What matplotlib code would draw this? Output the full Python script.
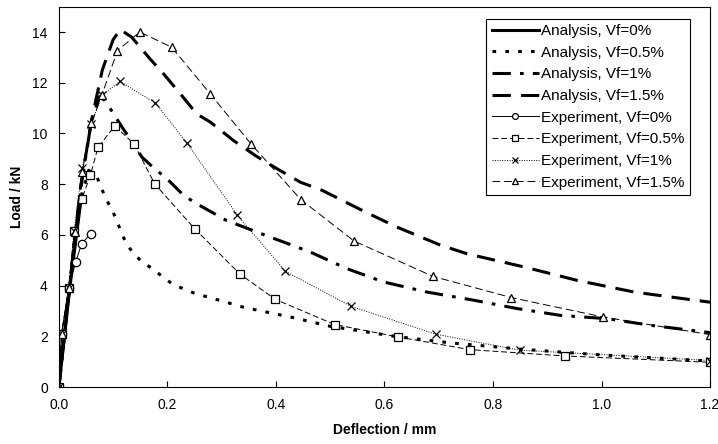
import matplotlib
matplotlib.use("Agg")
import matplotlib.pyplot as plt

plt.rcParams['font.family'] = ['Liberation Sans', 'DejaVu Sans']

# analysis curves
an0_x = [0.0, 0.02, 0.042]
an0_y = [0.0, 3.9, 7.6]

an05_x = [0.0, 0.02, 0.04, 0.055, 0.07, 0.085, 0.1, 0.125, 0.15, 0.17, 0.21, 0.25,
          0.3, 0.34, 0.43, 0.5, 0.62, 0.72, 0.85, 1.0, 1.2]
an05_y = [0.0, 4.0, 7.4, 8.55, 8.3, 7.5, 6.9, 5.6, 5.0, 4.7, 4.05, 3.7,
          3.4, 3.15, 2.75, 2.4, 2.0, 1.75, 1.5, 1.27, 1.03]

an1_x = [0.0, 0.02, 0.04, 0.06, 0.075, 0.085, 0.097, 0.118, 0.134, 0.153, 0.177, 0.199,
         0.23, 0.254, 0.309, 0.389, 0.463, 0.531, 0.598, 0.678, 0.764, 0.844, 0.924,
         1.01, 1.09, 1.2]
an1_y = [0.0, 4.0, 7.8, 10.5, 11.45, 11.3, 10.9, 10.2, 9.7, 9.07, 8.6, 8.22,
         7.56, 7.23, 6.57, 5.92, 5.33, 4.67, 4.15, 3.75, 3.43, 3.1, 2.83,
         2.7, 2.44, 2.15]

an15_x = [0.0, 0.02, 0.04, 0.06, 0.08, 0.1, 0.113, 0.134, 0.168, 0.193, 0.224, 0.254,
          0.279, 0.322, 0.362, 0.402, 0.445, 0.485, 0.528, 0.571, 0.623, 0.703,
          0.752, 0.857, 0.955, 1.06, 1.164, 1.2]
an15_y = [0.0, 4.0, 7.9, 10.5, 12.5, 13.7, 14.1, 13.8, 12.94, 12.35, 11.56, 10.77,
          10.45, 9.72, 9.13, 8.61, 8.08, 7.76, 7.3, 6.84, 6.31, 5.6,
          5.26, 4.74, 4.21, 3.75, 3.45, 3.35]

# experiment data
ex0_x = [0.0, 0.005, 0.018, 0.031, 0.042, 0.059]
ex0_y = [0.0, 2.1, 3.9, 4.93, 5.66, 6.05]

ex05_x = [0.0, 0.005, 0.018, 0.028, 0.042, 0.058, 0.072, 0.103, 0.138, 0.177,
          0.25, 0.334, 0.399, 0.508, 0.625, 0.757, 0.932, 1.2]
ex05_y = [0.0, 2.1, 3.9, 6.15, 7.4, 8.35, 9.45, 10.3, 9.6, 8.0,
          6.25, 4.45, 3.46, 2.47, 1.98, 1.48, 1.23, 0.98]

ex1_x = [0.0, 0.005, 0.018, 0.028, 0.043, 0.06, 0.079, 0.1125, 0.178, 0.236,
         0.329, 0.417, 0.538, 0.694, 0.849, 1.2]
ex1_y = [0.0, 2.1, 3.9, 6.15, 8.63, 10.38, 11.5, 12.05, 11.2, 9.62,
         6.78, 4.57, 3.19, 2.09, 1.46, 1.05]

ex15_x = [0.0, 0.005, 0.018, 0.03, 0.043, 0.06, 0.079, 0.108, 0.149, 0.208, 0.279,
          0.354, 0.446, 0.544, 0.689, 0.834, 1.002, 1.2]
ex15_y = [0.0, 2.1, 3.9, 6.1, 8.5, 10.4, 11.5, 13.27, 14.0, 13.4, 11.56,
          9.59, 7.39, 5.76, 4.37, 3.53, 2.77, 2.07]

fig = plt.figure(figsize=(7.18, 4.44), dpi=100)
ax = fig.add_axes([0.082, 0.128, 0.907, 0.857])

lw = 2.2
ax.plot(an0_x, an0_y, color='black', lw=lw, label='Analysis, Vf=0%')
ax.plot(an05_x, an05_y, color='black', lw=lw, dashes=(1.2, 3), label='Analysis, Vf=0.5%')
ax.plot(an1_x, an1_y, color='black', lw=lw, dashes=(6, 3, 1.2, 3), label='Analysis, Vf=1%')
ax.plot(an15_x, an15_y, color='black', lw=lw, dashes=(6, 3.3), label='Analysis, Vf=1.5%')

mk = dict(color='black', lw=0.7, markersize=6, markerfacecolor='white',
          markeredgecolor='black', markeredgewidth=0.9)
ax.plot(ex0_x, ex0_y, marker='o', linestyle='-', label='Experiment, Vf=0%', **mk)
ax.plot(ex05_x, ex05_y, marker='s', dashes=(6, 3), label='Experiment, Vf=0.5%', **mk)
ax.plot(ex1_x, ex1_y, marker='x', dashes=(1, 1.5), label='Experiment, Vf=1%', **mk)
ax.plot(ex15_x, ex15_y, marker='^', dashes=(8, 4), label='Experiment, Vf=1.5%', **mk)

ax.set_xlim(0, 1.2)
ax.set_ylim(0, 15)
ax.set_xticks([0.0, 0.2, 0.4, 0.6, 0.8, 1.0, 1.2])
ax.set_xticklabels(['0.0', '0.2', '0.4', '0.6', '0.8', '1.0', '1.2'])
ax.set_yticks(range(0, 16, 2))
ax.tick_params(direction='in', labelsize=10, length=4, pad=8)
ax.set_xlabel('Deflection / mm', fontsize=10, fontweight='bold', labelpad=8)
ax.set_ylabel('Load / kN', fontsize=10, fontweight='bold', labelpad=6)

leg = ax.legend(loc='upper right', bbox_to_anchor=(0.969, 0.968), fontsize=11,
                frameon=True, fancybox=False, edgecolor='black', framealpha=1,
                handlelength=3.1, handletextpad=0.15, labelspacing=0.5,
                borderpad=0.35, markerscale=0.7, borderaxespad=0)
leg.get_frame().set_linewidth(0.8)

fig.savefig('out.png', dpi=100)
